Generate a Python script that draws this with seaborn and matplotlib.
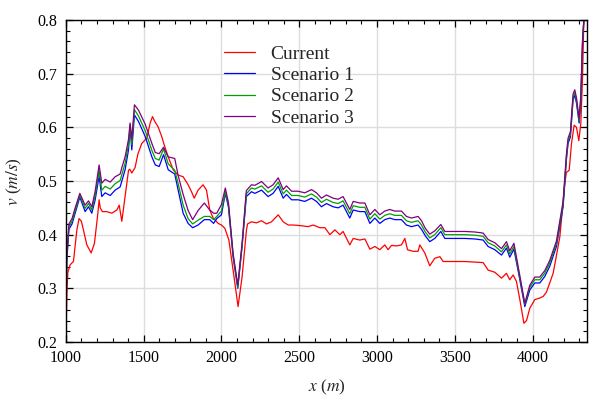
import numpy as np
import pandas as pd
import matplotlib
matplotlib.use("Agg")
import matplotlib.pyplot as plt
import seaborn as sns
from matplotlib.ticker import MultipleLocator

# ---------------- data ----------------
x_current = [1000, 1008, 1013, 1028, 1049, 1071, 1085, 1100, 1113, 1135, 1163, 1184, 1206, 1214, 1221,
             1235, 1263, 1296, 1328, 1343, 1360, 1381, 1403, 1411, 1424, 1445, 1463, 1488, 1521, 1542,
             1557, 1572, 1593, 1615, 1636, 1658, 1690, 1722, 1754, 1786, 1808, 1825, 1850, 1882, 1904,
             1925, 1947, 1979, 2000, 2022, 2048, 2075, 2107, 2133, 2161, 2168, 2193, 2225, 2258, 2290,
             2322, 2365, 2397, 2429, 2461, 2504, 2557, 2590, 2632, 2665, 2697, 2729, 2761, 2782, 2825,
             2847, 2889, 2922, 2954, 2986, 3018, 3050, 3071, 3093, 3125, 3157, 3179, 3196, 3232, 3264,
             3275, 3307, 3339, 3371, 3404, 3425, 3500, 3564, 3629, 3682, 3714, 3757, 3800, 3832, 3853,
             3875, 3896, 3918, 3944, 3961, 3982, 4014, 4046, 4068, 4089, 4132, 4175, 4207, 4217, 4235,
             4250, 4267, 4282, 4297, 4310, 4321, 4329, 4340]
v_current = [0.205, 0.300, 0.330, 0.344, 0.350, 0.409, 0.430, 0.425, 0.409, 0.381, 0.366, 0.384, 0.440, 0.465, 0.450,
             0.443, 0.443, 0.440, 0.446, 0.455, 0.425, 0.471, 0.520, 0.522, 0.515, 0.525, 0.550, 0.570, 0.580, 0.608,
             0.620, 0.611, 0.601, 0.584, 0.564, 0.545, 0.521, 0.511, 0.508, 0.493, 0.480, 0.468, 0.483, 0.493, 0.483,
             0.446, 0.431, 0.421, 0.418, 0.412, 0.390, 0.334, 0.266, 0.322, 0.409, 0.420, 0.424, 0.422, 0.426, 0.420,
             0.424, 0.437, 0.424, 0.418, 0.418, 0.417, 0.415, 0.418, 0.413, 0.413, 0.400, 0.409, 0.400, 0.406, 0.381,
             0.393, 0.390, 0.392, 0.373, 0.378, 0.372, 0.381, 0.372, 0.380, 0.379, 0.381, 0.393, 0.372, 0.369, 0.369,
             0.381, 0.366, 0.342, 0.356, 0.359, 0.350, 0.350, 0.350, 0.349, 0.348, 0.334, 0.330, 0.319, 0.328, 0.316,
             0.325, 0.313, 0.279, 0.235, 0.240, 0.263, 0.279, 0.282, 0.285, 0.293, 0.328, 0.396, 0.496, 0.516, 0.520,
             0.570, 0.604, 0.600, 0.575, 0.608, 0.694, 0.800, 0.860]

x_scen = [1000, 1006, 1020, 1040, 1060, 1090, 1124, 1146, 1167, 1188, 1214, 1231, 1253, 1285, 1317,
          1349, 1360, 1381, 1403, 1413, 1424, 1441, 1467, 1510, 1553, 1575, 1600, 1628, 1658, 1700,
          1722, 1754, 1786, 1815, 1850, 1890, 1925, 1950, 1970, 2000, 2025, 2045, 2075, 2105, 2133,
          2160, 2193, 2215, 2258, 2300, 2332, 2365, 2397, 2418, 2451, 2493, 2536, 2579, 2611, 2643,
          2675, 2718, 2750, 2782, 2825, 2847, 2889, 2922, 2954, 2986, 3018, 3050, 3082, 3114, 3157,
          3189, 3221, 3264, 3286, 3310, 3339, 3371, 3410, 3436, 3500, 3564, 3629, 3682, 3714, 3757,
          3800, 3832, 3853, 3880, 3910, 3950, 3982, 4014, 4046, 4078, 4110, 4153, 4196, 4217, 4228,
          4243, 4260, 4271, 4282, 4299, 4310, 4321, 4330, 4345]
v_scen1 = [0.210, 0.350, 0.410, 0.420, 0.440, 0.470, 0.443, 0.452, 0.440, 0.464, 0.509, 0.471, 0.478, 0.473, 0.483,
           0.489, 0.500, 0.521, 0.558, 0.601, 0.558, 0.623, 0.611, 0.583, 0.545, 0.530, 0.527, 0.549, 0.521, 0.513,
           0.483, 0.440, 0.421, 0.413, 0.418, 0.428, 0.428, 0.421, 0.430, 0.437, 0.477, 0.452, 0.359, 0.300, 0.378,
           0.471, 0.480, 0.477, 0.483, 0.471, 0.477, 0.490, 0.468, 0.475, 0.465, 0.465, 0.462, 0.468, 0.462, 0.452,
           0.458, 0.452, 0.450, 0.455, 0.431, 0.446, 0.443, 0.443, 0.421, 0.431, 0.421, 0.428, 0.431, 0.428, 0.428,
           0.418, 0.415, 0.418, 0.410, 0.398, 0.387, 0.393, 0.406, 0.393, 0.393, 0.393, 0.392, 0.390, 0.378, 0.372,
           0.362, 0.375, 0.358, 0.373, 0.328, 0.266, 0.297, 0.310, 0.310, 0.322, 0.341, 0.378, 0.452, 0.539, 0.570,
           0.582, 0.651, 0.660, 0.645, 0.608, 0.651, 0.757, 0.800, 0.860]
v_scen2 = [0.212, 0.355, 0.415, 0.425, 0.445, 0.474, 0.449, 0.458, 0.446, 0.472, 0.520, 0.483, 0.490, 0.485, 0.495,
           0.501, 0.512, 0.533, 0.568, 0.605, 0.568, 0.633, 0.621, 0.594, 0.557, 0.542, 0.539, 0.560, 0.532, 0.520,
           0.495, 0.455, 0.430, 0.420, 0.427, 0.434, 0.434, 0.428, 0.434, 0.444, 0.480, 0.456, 0.362, 0.302, 0.381,
           0.476, 0.487, 0.485, 0.491, 0.479, 0.485, 0.498, 0.476, 0.483, 0.473, 0.473, 0.470, 0.476, 0.470, 0.460,
           0.466, 0.460, 0.458, 0.463, 0.439, 0.454, 0.451, 0.451, 0.429, 0.439, 0.429, 0.436, 0.439, 0.436, 0.436,
           0.426, 0.423, 0.426, 0.418, 0.405, 0.394, 0.400, 0.413, 0.400, 0.400, 0.400, 0.399, 0.397, 0.385, 0.379,
           0.368, 0.381, 0.364, 0.378, 0.332, 0.270, 0.302, 0.316, 0.316, 0.328, 0.347, 0.383, 0.457, 0.544, 0.575,
           0.587, 0.656, 0.664, 0.650, 0.612, 0.655, 0.760, 0.803, 0.862]
v_scen3 = [0.214, 0.360, 0.420, 0.430, 0.450, 0.477, 0.455, 0.463, 0.452, 0.480, 0.530, 0.496, 0.503, 0.498, 0.508,
           0.513, 0.525, 0.545, 0.578, 0.608, 0.578, 0.642, 0.632, 0.606, 0.570, 0.553, 0.551, 0.563, 0.545, 0.542,
           0.510, 0.475, 0.445, 0.428, 0.445, 0.459, 0.446, 0.440, 0.440, 0.456, 0.487, 0.460, 0.365, 0.306, 0.385,
           0.482, 0.493, 0.492, 0.499, 0.487, 0.493, 0.506, 0.484, 0.491, 0.481, 0.481, 0.478, 0.484, 0.478, 0.468,
           0.474, 0.468, 0.466, 0.471, 0.447, 0.462, 0.459, 0.459, 0.437, 0.447, 0.437, 0.444, 0.447, 0.444, 0.444,
           0.434, 0.431, 0.434, 0.426, 0.412, 0.401, 0.407, 0.419, 0.406, 0.406, 0.406, 0.405, 0.403, 0.391, 0.385,
           0.374, 0.387, 0.370, 0.384, 0.336, 0.272, 0.306, 0.321, 0.321, 0.333, 0.352, 0.388, 0.462, 0.549, 0.580,
           0.592, 0.662, 0.670, 0.655, 0.616, 0.660, 0.764, 0.806, 0.865]

series_names = ["Current", "Scenario 1", "Scenario 2", "Scenario 3"]
colors = ["#ff0000", "#0000ff", "#00a000", "#800080"]

# ---------------- build long table ----------------
frames = [pd.DataFrame({"x": x_current, "v": v_current, "series": "Current"})]
for name, vals in zip(series_names[1:], [v_scen1, v_scen2, v_scen3]):
    frames.append(pd.DataFrame({"x": x_scen, "v": vals, "series": name}))
df = pd.concat(frames, ignore_index=True)

sns.set_theme(style="white")
plt.rcParams["font.family"] = ["Liberation Serif", "DejaVu Serif"]
plt.rcParams["mathtext.fontset"] = "stix"

fig = plt.figure(figsize=(5.93, 3.97), dpi=100)
ax = fig.add_axes([0.111, 0.1385, 0.879, 0.8111])

sns.lineplot(data=df, x="x", y="v", hue="series", hue_order=series_names,
             palette=dict(zip(series_names, colors)), estimator=None, sort=False,
             linewidth=0.9, ax=ax)

ax.set_xlim(1000, 4350)
ax.set_ylim(0.2, 0.8)
ax.xaxis.set_major_locator(MultipleLocator(500))
ax.xaxis.set_minor_locator(MultipleLocator(100))
ax.yaxis.set_major_locator(MultipleLocator(0.1))
ax.yaxis.set_minor_locator(MultipleLocator(0.02))
ax.grid(True, which="major", color="#dddddd", linewidth=1.0)
ax.set_axisbelow(True)
ax.tick_params(which="both", direction="in", bottom=True, left=True, top=True, right=True,
               colors="black", labelsize=11.5, pad=6)
ax.tick_params(which="major", length=5, width=0.9)
ax.tick_params(which="minor", length=3, width=0.8)
ax.set_yticks([0.2, 0.3, 0.4, 0.5, 0.6, 0.7, 0.8])
ax.set_yticklabels(["0.2", "0.3", "0.4", "0.5", "0.6", "0.7", "0.8"])
for s in ax.spines.values():
    s.set_color("black")
    s.set_linewidth(1.0)

ax.set_xlabel(r"$x$ ($m$)", fontsize=12.5, labelpad=8)
ax.set_ylabel(r"$v$ ($m/s$)", fontsize=12.5, labelpad=10)

leg = ax.legend(loc="upper left", bbox_to_anchor=(0.27, 0.975), frameon=False,
                fontsize=14, handlelength=1.6, handletextpad=0.8, labelspacing=0.18)

fig.savefig("out.png", dpi=100)
